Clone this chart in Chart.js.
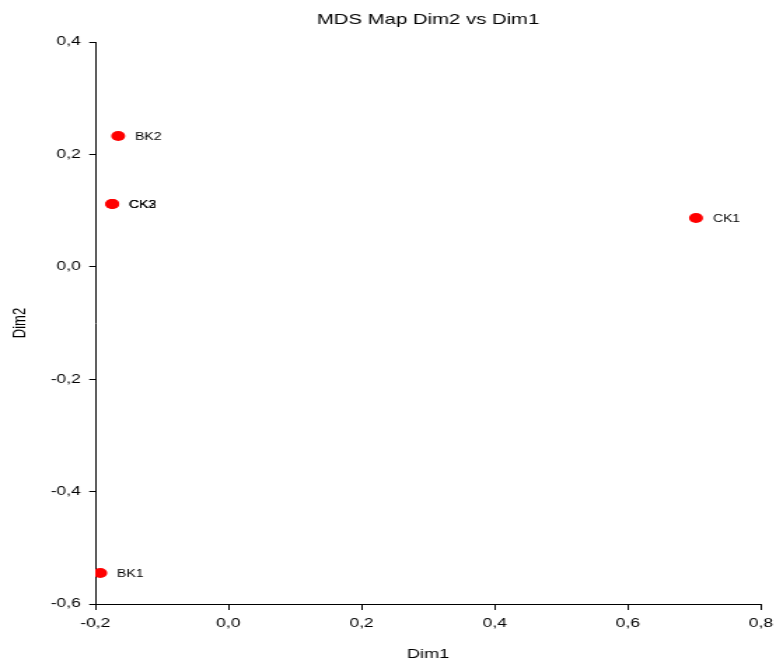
<!DOCTYPE html>
<html>
<head>
<meta charset="utf-8">
<script src="https://cdn.jsdelivr.net/npm/chart.js@4"></script>
<style>
html,body{margin:0;padding:0;background:#fff;overflow:hidden;}
#wrap{width:554px;height:662px;transform:scaleX(1.4007);transform-origin:0 0;}
#c{display:block;width:554px;height:662px;}
</style>
</head>
<body>
<div id="wrap"><canvas id="c" width="554" height="662"></canvas></div>
<script>
const names = ["BK1", "BK2", "CK1", "CK2", "CK3"];
const dim1 = [-0.1925, -0.1655, 0.7024, -0.1745, -0.1745];
const dim2 = [-0.5448, 0.2327, 0.0868, 0.1117, 0.1117];
const xTicks = [-0.2, 0.0, 0.2, 0.4, 0.6, 0.8];
const yTicks = [-0.6, -0.4, -0.2, 0.0, 0.2, 0.4];

const points = names.map((n, i) => ({x: dim1[i], y: dim2[i], label: n}));
const fmt = v => (Math.round(v * 10) / 10).toFixed(1).replace('.', ',');
const FONT = "'Liberation Sans', Arial, sans-serif";

const labelPlugin = {
  id: 'pointLabels',
  afterDatasetsDraw(chart) {
    const ctx = chart.ctx;
    const meta = chart.getDatasetMeta(0);
    ctx.save();
    ctx.font = "10px " + FONT;
    ctx.fillStyle = '#000';
    ctx.textAlign = 'left';
    ctx.textBaseline = 'middle';
    meta.data.forEach((el, i) => {
      ctx.fillText(points[i].label, el.x + 12, el.y + 1);
    });
    ctx.restore();
  }
};

new Chart(document.getElementById('c'), {
  type: 'scatter',
  data: {
    datasets: [{
      data: points,
      backgroundColor: '#ff0000',
      borderColor: '#ff0000',
      pointRadius: 5,
      pointHoverRadius: 5,
      borderWidth: 0
    }]
  },
  options: {
    responsive: false,
    animation: false,
    layout: {padding: {left: 0, right: 10.7, top: 0, bottom: 0}},
    plugins: {
      legend: {display: false},
      tooltip: {enabled: false},
      title: {
        display: true,
        text: 'MDS Map Dim2 vs Dim1',
        fullSize: false,
        color: '#000',
        font: {family: FONT, size: 14.5, weight: 'normal', lineHeight: 1.2},
        padding: {top: 11, bottom: 13.6}
      }
    },
    scales: {
      x: {
        type: 'linear',
        min: -0.2, max: 0.8,
        afterBuildTicks: s => { s.ticks = xTicks.map(v => ({value: v})); },
        afterFit: s => { s.height = 58; s.paddingLeft = 0; s.paddingRight = 0; },
        border: {display: true, color: '#000', width: 1},
        grid: {display: true, drawOnChartArea: false, drawTicks: true, tickLength: 6, color: '#000'},
        ticks: {color: '#000', font: {family: FONT, size: 12.5, lineHeight: 1.2}, padding: 6, callback: v => fmt(v), maxRotation: 0},
        title: {display: true, text: 'Dim1', color: '#000', font: {family: FONT, size: 13, lineHeight: 1}, padding: {top: 0, bottom: 1.5}}
      },
      y: {
        type: 'linear',
        min: -0.6, max: 0.4,
        afterBuildTicks: s => { s.ticks = yTicks.map(v => ({value: v})); },
        afterFit: s => { s.width = 68; s.paddingTop = 0; s.paddingBottom = 0; },
        border: {display: true, color: '#000', width: 1},
        grid: {display: true, drawOnChartArea: false, drawTicks: true, tickLength: 4.3, color: '#000'},
        ticks: {color: '#000', font: {family: FONT, size: 12.5}, padding: 6, callback: v => fmt(v)},
        title: {display: true, text: 'Dim2', color: '#000', font: {family: FONT, size: 13, lineHeight: 1.2}, padding: {top: 6.5, bottom: 0}}
      }
    }
  },
  plugins: [labelPlugin]
});
</script>
</body>
</html>
